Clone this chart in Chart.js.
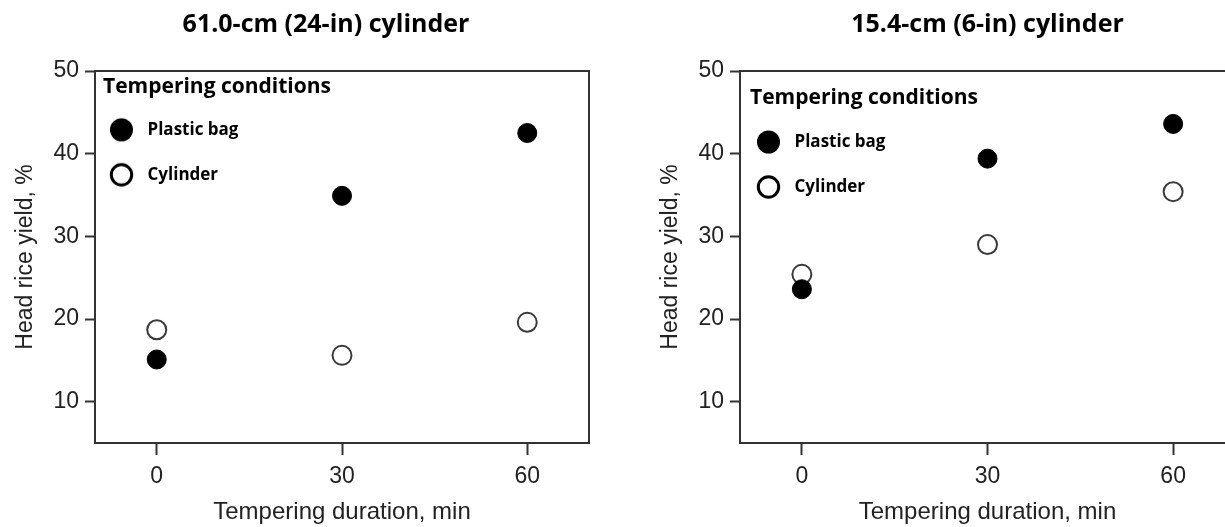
<!DOCTYPE html>
<html>
<head>
<meta charset="utf-8">
<script src="https://cdn.jsdelivr.net/npm/chart.js@4"></script>
<style>
  body { margin: 0; background: #fff; overflow: hidden; width: 1225px; height: 527px; position: relative; }
  canvas { position: absolute; top: 0; }
  #chart24 { left: 0; }
  #chart6 { left: 640px; }
</style>
</head>
<body>
<canvas id="chart24" width="652" height="527"></canvas>
<canvas id="chart6" width="695" height="527"></canvas>
<script>
//data
const durations = [0, 30, 60];
const bag24 = [15.1, 34.9, 42.5];
const cylinder24 = [18.7, 15.6, 19.6];
const bag6 = [23.6, 39.4, 43.6];
const cylinder6 = [25.4, 29.0, 35.4];
const xTicks = [0, 30, 60];
const yTicks = [10, 20, 30, 40, 50];
const seriesNames = ["Plastic bag", "Cylinder"];

const axisFont = { family: "'Liberation Sans', Arial, sans-serif", size: 23 };
const boldFont = "'Open Sans', 'Noto Sans', sans-serif";
const ink = "#333";
const textInk = "#222";

Chart.defaults.font.family = axisFont.family;

const points = (ys) => durations.map((x, i) => ({ x, y: ys[i] }));

// legend marker: circle sits left of the image centre so the label gap is wider
function legendMarker(filled) {
  const c = document.createElement("canvas");
  c.width = 60;
  c.height = 28;
  const ctx = c.getContext("2d");
  ctx.beginPath();
  if (filled) {
    ctx.arc(16.5, 14, 11.5, 0, Math.PI * 2);
    ctx.fillStyle = "#000";
    ctx.fill();
  } else {
    ctx.arc(16.5, 14, 10.2, 0, Math.PI * 2);
    ctx.lineWidth = 3;
    ctx.strokeStyle = "#000";
    ctx.stroke();
  }
  return c;
}
const markers = [legendMarker(true), legendMarker(false)];

// legend in the chart area starts flush with the axis; nudge it right
const legendInset = (dx) => ({
  id: "legendInset",
  afterLayout(chart) {
    chart.legend.left += dx;
  },
});

function frameAxis(position, fit) {
  return {
    type: "linear",
    position,
    min: position === "top" ? -10 : 5,
    max: position === "top" ? 70 : 50,
    ticks: { display: false },
    grid: { display: false },
    border: { color: ink, width: 2 },
    afterFit: fit,
  };
}

function makeChart(id, title, bag, cylinder, o) {
  return new Chart(document.getElementById(id), {
    type: "scatter",
    data: {
      datasets: [
        {
          label: seriesNames[0],
          data: points(bag),
          pointRadius: 9.5,
          pointBackgroundColor: "#000",
          pointBorderColor: "#000",
          pointBorderWidth: 1,
        },
        {
          label: seriesNames[1],
          data: points(cylinder),
          pointRadius: 9.5,
          pointBackgroundColor: "#fff",
          pointBorderColor: "#3a3a3a",
          pointBorderWidth: 2,
        },
      ],
    },
    plugins: [legendInset(o.legendLeft)],
    options: {
      responsive: false,
      animation: false,
      events: [],
      layout: { padding: 0 },
      plugins: {
        tooltip: { enabled: false },
        title: {
          display: true,
          text: title,
          color: "#000",
          font: { family: boldFont, weight: "bold", size: 25 },
          padding: { top: 10, bottom: 31 },
        },
        legend: {
          position: "chartArea",
          align: "start",
          title: {
            display: true,
            text: "Tempering conditions",
            position: "start",
            color: "#000",
            font: { family: boldFont, weight: "bold", size: 21, lineHeight: 0.8 },
            padding: { top: o.legendTop, bottom: o.legendBottom },
          },
          labels: {
            usePointStyle: true,
            pointStyleWidth: 8,
            padding: 28,
            color: "#000",
            font: { family: boldFont, weight: "bold", size: 17 },
            generateLabels: () =>
              seriesNames.map((text, i) => ({
                text,
                pointStyle: markers[i],
                datasetIndex: i,
                hidden: false,
                lineWidth: 0,
              })),
          },
        },
      },
      scales: {
        x: {
          type: "linear",
          position: "bottom",
          min: -10,
          max: 70,
          afterBuildTicks: (s) => { s.ticks = xTicks.map((value) => ({ value })); },
          afterFit: (s) => { s.height = 84; },
          ticks: { font: axisFont, color: textInk, padding: 8 },
          grid: { drawOnChartArea: false, tickLength: 12, tickWidth: 2, tickColor: ink },
          border: { color: ink, width: 2 },
          title: {
            display: true,
            text: "Tempering duration, min",
            font: { ...axisFont, size: 24 },
            color: textInk,
            padding: { top: 0, bottom: 0 },
          },
        },
        y: {
          type: "linear",
          position: "left",
          min: 5,
          max: 50,
          afterBuildTicks: (s) => { s.ticks = yTicks.map((value) => ({ value })); },
          afterFit: (s) => { s.width = o.yWidth; },
          ticks: { font: axisFont, color: textInk, padding: 6 },
          grid: { drawOnChartArea: false, tickLength: 10, tickWidth: 2, tickColor: ink },
          border: { color: ink, width: 2 },
          title: {
            display: true,
            text: "Head rice yield, %",
            font: axisFont,
            color: textInk,
            padding: { top: o.yTitlePad, bottom: 0 },
          },
        },
        x2: frameAxis("top", (s) => { s.height = 0; }),
        y2: frameAxis("right", (s) => { s.width = o.rightGap; }),
      },
    },
  });
}

makeChart("chart24", "61.0-cm (24-in) cylinder", bag24, cylinder24, {
  yWidth: 95, rightGap: 63, yTitlePad: 12, legendLeft: 8, legendTop: 76.5, legendBottom: 0,
});
makeChart("chart6", "15.4-cm (6-in) cylinder", bag6, cylinder6, {
  yWidth: 100, rightGap: 100, yTitlePad: 17, legendLeft: 10, legendTop: 87.7, legendBottom: 1,
});
</script>
</body>
</html>
